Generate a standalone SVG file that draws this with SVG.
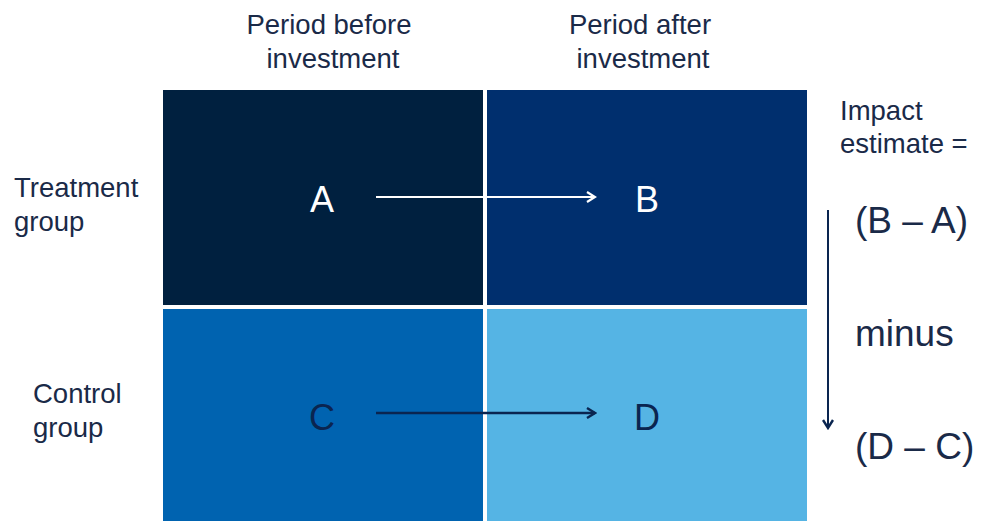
<svg xmlns="http://www.w3.org/2000/svg" width="986" height="521" viewBox="0 0 986 521">
<defs>
<style>
text{font-family:"Liberation Sans",Arial,sans-serif;fill:#1a2a48}
.h{font-size:27.5px;text-anchor:middle}
.l{font-size:27.5px}
.cell{font-size:36px;text-anchor:middle}
.f{font-size:37px}
</style>
<marker id="aw" markerWidth="12" markerHeight="12" refX="10" refY="6" orient="auto" markerUnits="userSpaceOnUse"><path d="M2,1 L10,6 L2,11" fill="none" stroke="#ffffff" stroke-width="2.2"/></marker>
<marker id="ad" markerWidth="12" markerHeight="12" refX="10" refY="6" orient="auto" markerUnits="userSpaceOnUse"><path d="M2,1 L10,6 L2,11" fill="none" stroke="#0a2550" stroke-width="2.4"/></marker>
</defs>
<rect width="986" height="521" fill="#ffffff"/>
<g id="header-before"><text class="h" x="329" y="34">Period before</text><text class="h" x="333" y="68">investment</text></g>
<g id="header-after"><text class="h" x="640" y="34">Period after</text><text class="h" x="643" y="68">investment</text></g>
<g id="label-treatment"><text class="l" x="14" y="197">Treatment</text><text class="l" x="14" y="231">group</text></g>
<g id="label-control"><text class="l" x="33" y="403">Control</text><text class="l" x="33" y="437">group</text></g>
<g id="cell-A"><rect x="163" y="90" width="320" height="215" fill="#00203f"/><text class="cell" x="322" y="212" style="fill:#ffffff">A</text></g>
<g id="cell-B"><rect x="487" y="90" width="320" height="215" fill="#002f6e"/><text class="cell" x="647" y="212" style="fill:#ffffff">B</text></g>
<g id="cell-C"><rect x="163" y="309" width="320" height="212" fill="#0063b0"/><text class="cell" x="322" y="430" style="fill:#0a2550">C</text></g>
<g id="cell-D"><rect x="487" y="309" width="320" height="212" fill="#55b4e4"/><text class="cell" x="647" y="430" style="fill:#0a2550">D</text></g>
<g id="impact"><text class="l" x="840" y="120">Impact</text><text class="l" x="840" y="153">estimate =</text>
<text class="f" x="855" y="233">(B – A)</text><text class="f" x="855" y="346">minus</text><text class="f" x="855" y="459">(D – C)</text></g>
<g id="connectors">
<line x1="376" y1="197" x2="595" y2="197" stroke="#ffffff" stroke-width="2" marker-end="url(#aw)"/>
<line x1="376" y1="413" x2="595" y2="413" stroke="#0a2550" stroke-width="2.4" marker-end="url(#ad)"/>
<line x1="828" y1="210" x2="828" y2="428" stroke="#0a2550" stroke-width="2" marker-end="url(#ad)"/>
</g>
</svg>
